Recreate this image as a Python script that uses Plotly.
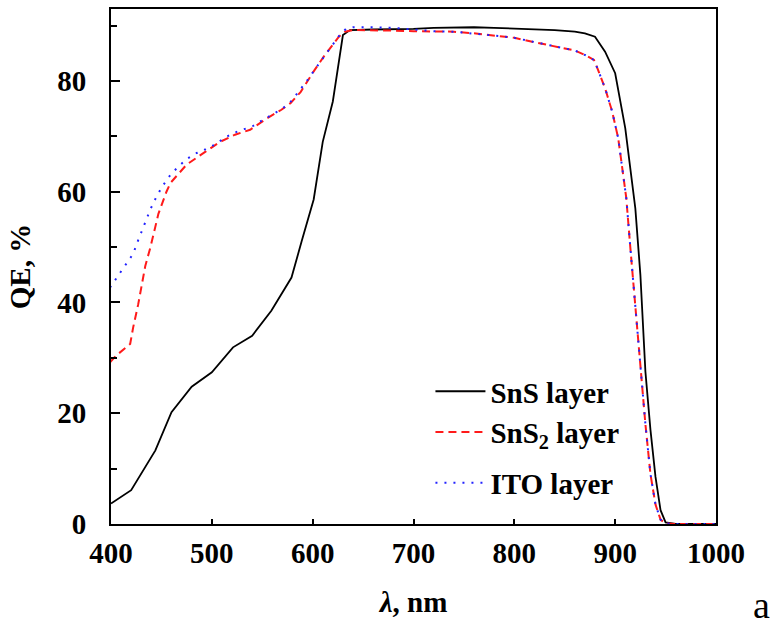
import plotly.graph_objects as go

# ---- data ----
sns_x = [400, 420, 444, 460, 480, 500, 521, 540, 559, 579, 589, 601, 610, 620, 630, 637,
         660, 680, 700, 720, 740, 760, 780, 800, 820, 840, 860, 870, 880, 890, 900, 910,
         920, 925, 930, 935, 940, 945, 950, 960, 980, 1000]
sns_y = [3.7, 6.1, 13.3, 20.2, 24.8, 27.4, 31.9, 34.0, 38.5, 44.5, 51.0, 58.6, 69.0, 76.3, 88.3, 89.2,
         89.3, 89.3, 89.4, 89.6, 89.7, 89.7, 89.6, 89.5, 89.3, 89.2, 88.9, 88.6, 88.0, 85.3, 81.4, 71.5,
         57.0, 45.0, 27.5, 17.0, 8.5, 2.5, 0.3, 0, 0, 0]

sns2_x = [399, 405, 419, 422, 427, 434, 439, 447, 455, 459, 475, 492, 508, 523, 538, 555, 569,
          578, 588, 602, 611, 626, 632, 640, 660, 680, 700, 720, 740, 760, 780, 800, 820, 840,
          860, 870, 879, 883, 890, 897, 903, 907, 911, 915, 920, 926, 930, 935, 940, 945, 950,
          960, 980, 1000]
sns2_y = [29.2, 30.4, 32.5, 35.5, 39.7, 46.6, 49.9, 56.0, 60.0, 61.6, 64.9, 67.0, 69.0, 70.3, 71.2, 73.3, 74.8,
          76.0, 78.0, 82.0, 84.4, 88.0, 88.9, 89.2, 89.2, 89.1, 89.0, 89.0, 88.9, 88.6, 88.2, 87.8, 87.0, 86.3,
          85.5, 84.7, 83.8, 82.0, 78.7, 74.5, 69.7, 64.3, 58.9, 50.0, 39.0, 27.0, 18.0, 9.0, 3.5, 0.8, 0.1,
          0, 0, 0]

ito_x = [399, 407, 415, 422, 426, 430, 434, 439, 444, 450, 457, 466, 475, 485, 494, 504, 513,
         523, 532, 541, 551, 560, 570, 579, 587, 595, 603, 610, 618, 626, 633, 640, 660, 680,
         700, 720, 740, 760, 780, 800, 820, 840, 860, 870, 879, 883, 890, 897, 903, 907, 911,
         915, 920, 926, 930, 935, 940, 945, 950, 960, 980, 1000]
ito_y = [42.7, 44.8, 46.9, 48.8, 50.8, 52.7, 54.8, 56.8, 58.7, 60.7, 62.6, 64.4, 65.9, 67.0, 67.7, 68.6, 69.8,
         70.7, 71.3, 71.9, 73.0, 73.9, 75.0, 76.4, 78.2, 80.2, 82.3, 84.0, 86.0, 88.1, 89.4, 89.7, 89.7, 89.6,
         89.3, 89.0, 88.9, 88.6, 88.2, 87.8, 87.0, 86.3, 85.5, 84.7, 83.8, 82.0, 78.7, 74.5, 69.7, 64.3, 58.9,
         50.0, 39.0, 27.0, 18.0, 9.0, 3.5, 0.8, 0.1, 0, 0, 0]

x_ticks = [400, 500, 600, 700, 800, 900, 1000]
x_long_ticks = [500, 700, 900]
y_ticks = [0, 20, 40, 60, 80]

FONT = "Liberation Serif"

fig = go.Figure()
fig.add_trace(go.Scatter(x=sns_x, y=sns_y, mode="lines", name="<b>SnS layer</b>",
                         legendgroup="g1",
                         line=dict(color="black", width=1.8)))
fig.add_trace(go.Scatter(x=sns2_x, y=sns2_y, mode="lines", name="<b>SnS<sub>2</sub> layer</b>",
                         legendgroup="g1",
                         line=dict(color="#ff1a1a", width=2, dash="8px,5px")))
fig.add_trace(go.Scatter(x=ito_x, y=ito_y, mode="lines", name="<b>ITO layer</b>",
                         legendgroup="g2",
                         line=dict(color="#2222ff", width=2, dash="2px,7px")))

fig.update_layout(
    width=774, height=633,
    margin=dict(l=111, r=58, t=7, b=109),
    plot_bgcolor="white", paper_bgcolor="white",
    font=dict(family=FONT, size=29, color="black"),
    showlegend=True,
    legend=dict(x=0.528, y=0.307, xanchor="left", yanchor="top",
                bgcolor="rgba(0,0,0,0)", font=dict(family=FONT, size=29),
                tracegroupgap=10, itemwidth=50, groupclick="toggleitem"),
    xaxis=dict(range=[400, 1000], tickmode="array", tickvals=x_ticks,
               ticktext=[f"<b>{v}</b>" for v in x_ticks],
               ticks="inside", ticklen=5, tickwidth=2, tickcolor="black",
               showline=True, linewidth=2, linecolor="black", mirror=True,
               showgrid=False, zeroline=False, ticklabelstandoff=2,
               title=dict(text="<b><i>λ</i>, nm</b>", font=dict(size=29), standoff=24)),
    xaxis2=dict(range=[400, 1000], overlaying="x", anchor="y", side="bottom",
                tickmode="array", tickvals=x_long_ticks, ticks="inside", ticklen=10,
                tickwidth=2, tickcolor="black", showticklabels=False,
                showline=False, showgrid=False, zeroline=False),
    yaxis=dict(range=[0, 93], tickmode="array", tickvals=y_ticks,
               ticktext=[f"<b>{v}</b>" for v in y_ticks],
               ticks="inside", ticklen=9, tickwidth=2, tickcolor="black",
               minor=dict(dtick=10, tick0=0, ticks="inside", ticklen=6, tickwidth=2, tickcolor="black"),
               showline=True, linewidth=2, linecolor="black", mirror=True,
               showgrid=False, zeroline=False, ticklabelstandoff=17,
               title=dict(text="<b>QE, %</b>", font=dict(size=29), standoff=18)),
)

fig.add_annotation(text="a", xref="paper", yref="paper", x=1.076, y=-0.157,
                   xanchor="center", yanchor="middle", showarrow=False,
                   font=dict(family=FONT, size=38, color="black"))

fig.write_html("out.html")
